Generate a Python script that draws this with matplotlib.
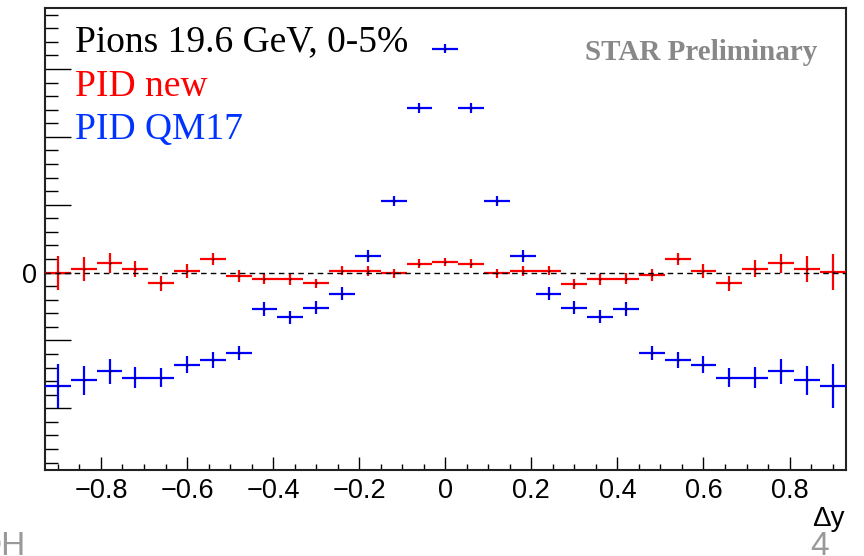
import numpy as np
import matplotlib
matplotlib.use("Agg")
from matplotlib import pyplot as plt
from matplotlib.ticker import MultipleLocator, FuncFormatter


# bin centres in delta-y (bin width 0.06)
dy = [-0.90, -0.84, -0.78, -0.72, -0.66, -0.60, -0.54, -0.48, -0.42, -0.36, -0.30,
      -0.24, -0.18, -0.12, -0.06, 0.00, 0.06, 0.12, 0.18, 0.24, 0.30, 0.36,
      0.42, 0.48, 0.54, 0.60, 0.66, 0.72, 0.78, 0.84, 0.90]
half_bin = 0.03

# PID new
pid_new = [0.00, 0.05, 0.145, 0.05, -0.16, 0.02, 0.20, -0.05, -0.09, -0.10, -0.16,
           0.03, 0.03, -0.01, 0.13, 0.15, 0.13, -0.01, 0.03, 0.03, -0.165, -0.10,
           -0.09, -0.04, 0.195, 0.02, -0.155, 0.06, 0.135, 0.05, 0.01]
pid_new_err = [0.25, 0.18, 0.15, 0.12, 0.11, 0.10, 0.09, 0.09, 0.08, 0.08, 0.07,
               0.067, 0.074, 0.064, 0.064, 0.06, 0.064, 0.064, 0.074, 0.067, 0.07, 0.08,
               0.08, 0.09, 0.09, 0.10, 0.11, 0.12, 0.14, 0.19, 0.27]

# PID QM17
pid_qm17 = [-1.67, -1.59, -1.455, -1.55, -1.55, -1.356, -1.29, -1.18, -0.54, -0.66, -0.515,
            -0.31, 0.25, 1.056, 2.42, 3.30, 2.42, 1.056, 0.25, -0.31, -0.515, -0.65,
            -0.54, -1.18, -1.29, -1.356, -1.55, -1.55, -1.455, -1.59, -1.67]
pid_qm17_err = [0.32, 0.22, 0.18, 0.155, 0.14, 0.13, 0.12, 0.105, 0.105, 0.10, 0.10,
                0.10, 0.09, 0.08, 0.075, 0.067, 0.075, 0.08, 0.09, 0.10, 0.10, 0.10,
                0.105, 0.105, 0.12, 0.13, 0.14, 0.155, 0.18, 0.22, 0.32]

W, H = 864, 556
fig = plt.figure(figsize=(W / 100, H / 100), dpi=100)
ax = fig.add_axes([45 / W, 1 - 470 / H, 800.5 / W, 462 / H])

sans = "Liberation Sans"
serif = "Liberation Serif"


def px(x, y):
    # pixel position (from top-left) -> figure fraction
    return x / W, 1 - y / H


ax.errorbar(dy, pid_new, xerr=half_bin, yerr=pid_new_err, fmt="none",
            ecolor="#ff0000", elinewidth=1.6, capsize=0, zorder=3)
ax.errorbar(dy, pid_qm17, xerr=half_bin, yerr=pid_qm17_err, fmt="none",
            ecolor="#0000ff", elinewidth=1.6, capsize=0, zorder=3)
ax.plot(dy, pid_new, "s", color="k", ms=1.2, mew=0, zorder=4)
ax.plot(dy, pid_qm17, "s", color="k", ms=1.2, mew=0, zorder=4)

ax.axhline(0, color="k", lw=1.0, ls=(0, (4, 3)), zorder=5)

ax.set_xlim(-0.93, 0.93)
ax.set_ylim(-2.91, 3.9)

ax.xaxis.set_major_locator(MultipleLocator(0.2))
ax.xaxis.set_minor_locator(MultipleLocator(0.05))
ax.yaxis.set_major_locator(MultipleLocator(1))
ax.yaxis.set_minor_locator(MultipleLocator(0.2))
ax.xaxis.set_major_formatter(FuncFormatter(lambda v, p: "0" if abs(v) < 1e-9 else f"{v:.1f}".replace("-", "\u2212")))
ax.yaxis.set_major_formatter(FuncFormatter(lambda v, p: "0" if abs(v) < 1e-9 else ""))

ax.tick_params(axis="x", which="major", direction="in", length=9.5, width=1, pad=6,
               labelsize=19.5, top=False)
ax.tick_params(axis="x", which="minor", direction="in", length=4.5, width=1, top=False)
ax.tick_params(axis="y", which="major", direction="in", length=18.5, width=1, pad=6,
               labelsize=19.5, right=False)
ax.tick_params(axis="y", which="minor", direction="in", length=9.5, width=1, right=False)
for lab in ax.get_xticklabels() + ax.get_yticklabels():
    lab.set_fontfamily(sans)

for sp in ax.spines.values():
    sp.set_linewidth(1.5)
    sp.set_color("#222222")

# labels inside the frame
fig.text(*px(75, 51), "Pions 19.6 GeV, 0-5%", family=serif, fontsize=27,
         color="k", va="baseline", ha="left")
fig.text(*px(75, 96), "PID new", family=serif, fontsize=27,
         color="#ff0000", va="baseline", ha="left")
fig.text(*px(75, 139), "PID QM17", family=serif, fontsize=27,
         color="#0033ff", va="baseline", ha="left")
fig.text(*px(817, 60), "STAR Preliminary", family=serif, fontsize=21,
         fontweight="bold", color="#888888", va="baseline", ha="right")

fig.text(*px(845, 526), "\u0394y", family=sans, fontsize=20, color="k",
         va="baseline", ha="right")

# slide footer
fig.text(*px(26, 555), "DH", family=["Liberation Sans Narrow", sans], fontsize=24,
         color="#999999", va="baseline", ha="right")
fig.text(*px(829, 555), "4", family=["Liberation Sans Narrow", sans], fontsize=24,
         color="#999999", va="baseline", ha="right")

fig.savefig("out.png", dpi=100)
